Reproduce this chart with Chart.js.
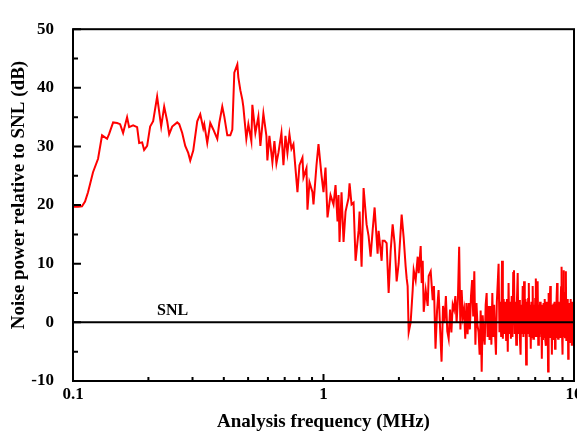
<!DOCTYPE html>
<html>
<head>
<meta charset="utf-8">
<script src="https://cdn.jsdelivr.net/npm/chart.js@4/dist/chart.umd.min.js"></script>
<style>
  html, body { margin: 0; padding: 0; background: #fff; }
  #wrap { width: 577px; height: 433px; }
</style>
</head>
<body>
<div id="wrap"><canvas id="noise-chart"></canvas></div>
<script>
// Analysis frequency (MHz) and noise power relative to SNL (dB).
// Below ~2.7 MHz the trace was followed point by point.
const lowFreqs = [
  0.100, 0.1047, 0.1086, 0.1117, 0.1148, 0.1202, 0.1259, 0.1306, 0.1368, 0.1393,
  0.1446, 0.1500, 0.1542, 0.1585, 0.1644, 0.1675, 0.1738, 0.1803, 0.1837, 0.1888,
  0.1923, 0.1977, 0.2032, 0.2089, 0.2167, 0.2249, 0.2312, 0.2377, 0.2421, 0.2489,
  0.2606, 0.2655, 0.2729, 0.2806, 0.2884, 0.2938, 0.3020, 0.3133, 0.3221, 0.3311,
  0.3342, 0.3435, 0.3532, 0.3631, 0.3767, 0.3837, 0.3944, 0.4018, 0.4130, 0.4246,
  0.4325, 0.4405, 0.4529, 0.4571, 0.4656, 0.4742, 0.4786, 0.4920, 0.5012, 0.5152,
  0.5200, 0.5346, 0.5496, 0.5598, 0.5755, 0.5916, 0.5970, 0.6082, 0.6252, 0.6369,
  0.6487, 0.6607, 0.6793, 0.6919, 0.7048, 0.7178, 0.7312, 0.7448, 0.7586, 0.7727,
  0.7871, 0.8017, 0.8241, 0.8317, 0.8551, 0.8629, 0.8790, 0.9036, 0.9120, 0.9375,
  0.9550, 0.9817, 1.000, 1.0186, 1.0375, 1.0666, 1.0965, 1.1169, 1.1376, 1.1482,
  1.1588, 1.1803, 1.2023, 1.2246, 1.259, 1.2707, 1.2943, 1.3183, 1.3429, 1.3805,
  1.3932, 1.4191, 1.4456, 1.4860, 1.5137, 1.5418, 1.5705, 1.5997, 1.6444, 1.6597,
  1.7063, 1.7219, 1.7540, 1.7866, 1.8199, 1.8537, 1.8881, 1.9232, 1.9589, 1.995,
  2.051, 2.089, 2.128, 2.148, 2.167, 2.188, 2.228, 2.270, 2.291, 2.333,
  2.377, 2.399, 2.443, 2.466, 2.489, 2.512, 2.559, 2.606, 2.630, 2.679,
  2.729
];
const lowNoise = [
  19.7, 19.7, 19.8, 20.6, 22.2, 25.6, 27.9, 31.9, 31.3, 32.1,
  34.1, 34.0, 33.8, 32.3, 35.0, 33.3, 33.6, 33.3, 30.6, 30.7,
  29.4, 30.1, 33.4, 34.3, 38.5, 33.4, 36.8, 34.3, 32.1, 33.4,
  34.1, 33.8, 32.3, 30.1, 28.9, 27.6, 29.3, 34.3, 35.5, 33.1,
  33.8, 30.6, 34.0, 32.9, 31.3, 34.0, 36.8, 35.1, 31.9, 31.9,
  32.9, 42.6, 44.0, 41.8, 39.6, 38.0, 36.8, 31.3, 33.8, 30.9,
  37.1, 32.3, 35.1, 30.1, 35.6, 31.8, 27.6, 31.8, 27.3, 30.9,
  27.1, 28.9, 32.3, 26.8, 31.8, 28.9, 32.1, 29.6, 30.4, 26.3,
  22.2, 26.8, 28.1, 24.7, 26.3, 19.2, 23.9, 22.2, 20.1, 26.8,
  30.4, 25.1, 22.2, 26.4, 17.9, 21.7, 20.1, 23.4, 17.2, 21.7,
  13.7, 22.2, 13.7, 18.9, 21.2, 23.7, 20.1, 20.4, 10.5, 15.6,
  18.9, 9.5, 22.9, 16.7, 14.7, 11.2, 15.6, 19.6, 11.7, 15.6,
  10.5, 13.9, 13.9, 13.5, 5.0, 12.2, 16.7, 13.4, 7.0, 10.0,
  18.4, 14.5, 9.5, 7.5, 6.2, -1.7, 0.0, 5.5, 8.9, 7.2,
  11.2, 8.4, 13.0, 6.7, 10.5, 1.8, 5.5, 2.8, 7.9, 8.7,
  3.8
];
// Above ~2.7 MHz the trace is a dense band; sampled on the analyser's even frequency steps
const highFreqs = [
  2.76, 2.80, 2.84, 2.88, 2.92, 2.96, 3.00, 3.04, 3.08, 3.12,
  3.16, 3.20, 3.24, 3.28, 3.32, 3.36, 3.40, 3.44, 3.48, 3.52,
  3.56, 3.60, 3.64, 3.68, 3.72, 3.76, 3.80, 3.84, 3.88, 3.92,
  3.96, 4.00, 4.04, 4.08, 4.12, 4.16, 4.20, 4.24, 4.28, 4.32,
  4.36, 4.40, 4.44, 4.48, 4.52, 4.56, 4.60, 4.64, 4.68, 4.72,
  4.76, 4.80, 4.84, 4.88, 4.92, 4.96, 5.00, 5.04, 5.08, 5.12,
  5.16, 5.20, 5.24, 5.28, 5.32, 5.36, 5.40, 5.44, 5.48, 5.52,
  5.56, 5.60, 5.64, 5.68, 5.72, 5.76, 5.80, 5.84, 5.88, 5.92,
  5.96, 6.00, 6.04, 6.08, 6.12, 6.16, 6.20, 6.24, 6.28, 6.32,
  6.36, 6.40, 6.44, 6.48, 6.52, 6.56, 6.60, 6.64, 6.68, 6.72,
  6.76, 6.80, 6.84, 6.88, 6.92, 6.96, 7.00, 7.04, 7.08, 7.12,
  7.16, 7.20, 7.24, 7.28, 7.32, 7.36, 7.40, 7.44, 7.48, 7.52,
  7.56, 7.60, 7.64, 7.68, 7.72, 7.76, 7.80, 7.84, 7.88, 7.92,
  7.96, 8.00, 8.04, 8.08, 8.12, 8.16, 8.20, 8.24, 8.28, 8.32,
  8.36, 8.40, 8.44, 8.48, 8.52, 8.56, 8.60, 8.64, 8.68, 8.72,
  8.76, 8.80, 8.84, 8.88, 8.92, 8.96, 9.00, 9.04, 9.08, 9.12,
  9.16, 9.20, 9.24, 9.28, 9.32, 9.36, 9.40, 9.44, 9.48, 9.52,
  9.56, 9.60, 9.64, 9.68, 9.72, 9.76, 9.80, 9.84, 9.88, 9.92,
  9.96, 10.00
];
const highNoise = [
  6.2, -4.5, 2.0, 5.5, -1.0, -6.7, 2.8, 0.0, 4.5, -1.5,
  -2.8, 2.2, -1.7, 3.0, 2.2, 4.5, 0.0, 4.0, 12.9, -1.2,
  5.5, 1.0, 2.2, -2.8, 3.3, -2.0, 3.3, -1.2, 4.5, 7.2,
  1.0, 8.7, -3.8, 3.3, -0.5, -1.7, -5.5, 2.0, -8.4, 1.2,
  -2.0, -3.8, 3.0, 5.0, -2.5, 2.8, -3.0, 2.8, -3.8, 5.0,
  -2.5, 3.0, -2.0, -5.5, 3.5, 6.7, 10.0, -1.7, 3.5, -2.5,
  10.5, -2.8, 4.0, -2.0, 3.5, -3.0, 4.0, -5.0, 6.7, -2.0,
  3.5, -2.8, 4.5, -2.5, 8.4, 8.9, -2.0, 3.5, -3.8, 4.0,
  8.4, -2.0, 3.8, -2.5, -5.5, 3.0, -2.0, 6.2, -2.5, 7.0,
  -2.0, 4.0, -7.2, 3.5, -2.0, 4.0, 6.7, -2.5, 3.0, -4.5,
  3.5, -2.5, 6.2, -2.8, 3.0, -2.5, 4.0, 7.5, -2.5, 3.5,
  7.0, -3.8, 3.0, -2.5, 3.5, -2.0, 3.0, -6.2, 3.0, -3.0,
  3.3, -2.5, 4.0, -3.0, -4.0, 3.5, -2.5, 3.0, -8.4, 5.0,
  -2.5, 3.5, 6.2, -2.5, 3.0, -5.5, 3.0, -3.0, 3.2, -2.5,
  3.5, -4.5, 3.0, -2.5, 4.0, 6.7, -2.0, -2.8, 3.5, -2.5,
  3.3, -2.5, 3.0, 6.0, 9.5, -2.0, -5.5, 3.5, 8.9, -2.5,
  3.0, -2.7, 5.0, 8.7, -3.0, 3.0, -3.0, 4.0, -6.2, 3.0,
  -3.0, 3.3, -2.5, 4.0, -3.5, 3.0, -4.0, 3.5, -4.0, 3.0,
  -3.0, 0.0
];
const xTickValues = [0.1, 1, 10];
const xMinorValues = [0.2, 0.3, 0.4, 0.5, 0.6, 0.7, 0.8, 0.9, 2, 3, 4, 5, 6, 7, 8, 9];
const yTickValues = [-10, 0, 10, 20, 30, 40, 50];
const yMinorValues = [-5, 5, 15, 25, 35, 45];
const snlLevel = 0;

const serif = '"Liberation Serif", "Times New Roman", serif';

const freqs = lowFreqs.concat(highFreqs);
const noise = lowNoise.concat(highNoise);

// frame, inward ticks, x labels, axis titles and the SNL label
const framePlugin = {
  id: 'frame',
  afterDraw(chart) {
    const { ctx, chartArea: a, scales: { x, y } } = chart;
    ctx.save();
    ctx.strokeStyle = '#000';
    ctx.lineWidth = 2;
    ctx.strokeRect(a.left, a.top, a.right - a.left, a.bottom - a.top);

    ctx.beginPath();
    yTickValues.forEach(v => {
      const py = y.getPixelForValue(v);
      ctx.moveTo(a.left, py); ctx.lineTo(a.left + 8, py);
    });
    yMinorValues.forEach(v => {
      const py = y.getPixelForValue(v);
      ctx.moveTo(a.left, py); ctx.lineTo(a.left + 5, py);
    });
    xTickValues.forEach(v => {
      const px = x.getPixelForValue(v);
      ctx.moveTo(px, a.bottom); ctx.lineTo(px, a.bottom - 7);
    });
    xMinorValues.forEach(v => {
      const px = x.getPixelForValue(v);
      ctx.moveTo(px, a.bottom); ctx.lineTo(px, a.bottom - 4);
    });
    ctx.stroke();

    ctx.fillStyle = '#000';
    ctx.font = 'bold 17px ' + serif;
    ctx.textAlign = 'center';
    ctx.textBaseline = 'middle';
    xTickValues.forEach(v => {
      ctx.fillText(String(v), x.getPixelForValue(v), a.bottom + 14);
    });

    ctx.font = 'bold 19px ' + serif;
    ctx.fillText('Analysis frequency (MHz)', (a.left + a.right) / 2, 422);

    ctx.save();
    ctx.translate(19, 195);
    ctx.rotate(-Math.PI / 2);
    ctx.fillText('Noise power relative to SNL (dB)', 0, 0);
    ctx.restore();

    ctx.font = 'bold 16px ' + serif;
    ctx.textBaseline = 'alphabetic';
    ctx.fillText('SNL', x.getPixelForValue(0.25), y.getPixelForValue(1.3));
    ctx.restore();
  }
};

const ctx = document.getElementById('noise-chart').getContext('2d');
new Chart(ctx, {
  type: 'line',
  data: {
    datasets: [
      {
        label: 'SNL',
        data: [{ x: 0.1, y: snlLevel }, { x: 10, y: snlLevel }],
        borderColor: '#000',
        borderWidth: 2,
        pointRadius: 0
      },
      {
        label: 'Noise',
        data: freqs.map((f, i) => ({ x: f, y: noise[i] })),
        borderColor: '#ff0000',
        borderWidth: 2,
        pointRadius: 0,
        tension: 0
      }
    ]
  },
  options: {
    responsive: true,
    maintainAspectRatio: false,
    animation: false,
    layout: { padding: { top: 21, right: 3, left: 0, bottom: 0 } },
    plugins: {
      legend: { display: false },
      tooltip: { enabled: false }
    },
    scales: {
      x: {
        type: 'logarithmic',
        min: 0.1,
        max: 10,
        grid: { display: false, drawTicks: false },
        border: { display: false },
        ticks: { display: false },
        afterFit(scale) { scale.height = 52; }
      },
      y: {
        min: -10,
        max: 50,
        afterBuildTicks(scale) { scale.ticks = yTickValues.map(v => ({ value: v })); },
        grid: { display: false, drawTicks: false },
        border: { display: false },
        ticks: {
          color: '#000',
          padding: 19,
          font: { family: serif, size: 17, weight: 'bold' }
        },
        afterFit(scale) { scale.width = 73; }
      }
    }
  },
  plugins: [framePlugin]
});
</script>
</body>
</html>
